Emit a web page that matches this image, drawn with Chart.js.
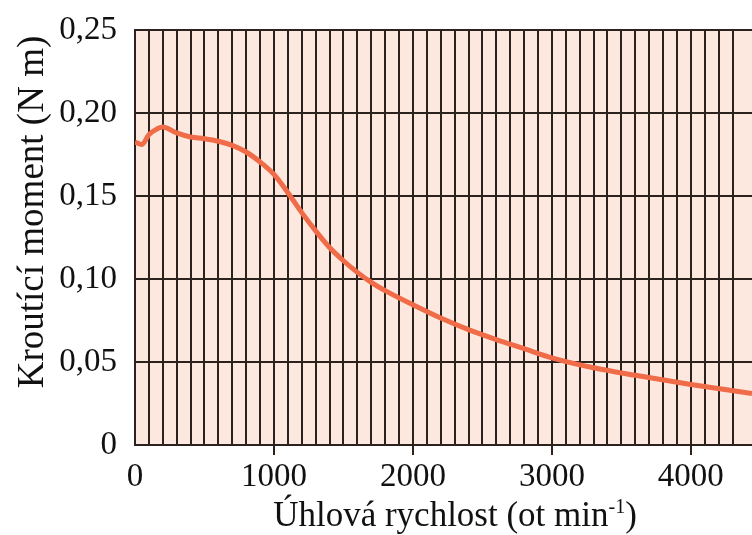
<!DOCTYPE html>
<html>
<head>
<meta charset="utf-8">
<script src="https://cdn.jsdelivr.net/npm/chart.js@4"></script>
<style>
    html, body { margin: 0; padding: 0; background: #fff; }
    #wrap { width: 752px; height: 535px; position: relative; }
</style>
</head>
<body>
<div id="wrap"><canvas id="chartTorque"></canvas></div>
<script>
// speed (ot/min) and torque (N m)
const rpm = [0, 50, 100, 150, 200, 300, 400, 500, 600, 700, 800, 900, 1000, 1100, 1200, 1300, 1400, 1500, 1600, 1700, 1800, 2000, 2200, 2400, 2600, 2800, 3000, 3300, 3600, 4000, 4440];
const torque = [0.1825, 0.181, 0.187, 0.190, 0.1915, 0.188, 0.1855, 0.1845, 0.183, 0.1805, 0.1765, 0.1705, 0.163, 0.152, 0.140, 0.129, 0.119, 0.111, 0.104, 0.098, 0.093, 0.0845, 0.0765, 0.0695, 0.0635, 0.058, 0.0525, 0.0465, 0.042, 0.0365, 0.031];
const xLabelStep = 1000;
const yTickValues = [0, 0.05, 0.10, 0.15, 0.20, 0.25];

const SERIF = '"Liberation Serif", "DejaVu Serif", serif';
const GRID = '#2b211d';

const plotBackground = {
    id: 'plotBackground',
    beforeDraw(chart) {
        const { ctx, chartArea: a } = chart;
        ctx.save();
        ctx.fillStyle = '#fce8de';
        ctx.fillRect(a.left, a.top, a.right - a.left, a.bottom - a.top);
        ctx.restore();
    }
};

// axis titles drawn by hand so the x title can carry a superscript
const axisTitles = {
    id: 'axisTitles',
    afterDraw(chart) {
        const ctx = chart.ctx;
        ctx.save();
        ctx.fillStyle = '#111';
        ctx.textBaseline = 'alphabetic';

        // y title
        ctx.font = '37px ' + SERIF;
        ctx.translate(43, 212);
        ctx.rotate(-Math.PI / 2);
        ctx.textAlign = 'center';
        ctx.fillText('Kroutící moment (N m)', 0, 0);
        ctx.setTransform(1, 0, 0, 1, 0, 0);

        // x title with superscript
        const main = 'Úhlová rychlost (ot min';
        const sup = '-1';
        const tail = ')';
        ctx.font = '35px ' + SERIF;
        const wMain = ctx.measureText(main).width;
        const wTail = ctx.measureText(tail).width;
        ctx.font = '20px ' + SERIF;
        const wSup = ctx.measureText(sup).width;
        let x = 455 - (wMain + wSup + wTail) / 2;
        const base = 526;
        ctx.textAlign = 'left';
        ctx.font = '35px ' + SERIF;
        ctx.fillText(main, x, base);
        x += wMain;
        ctx.font = '20px ' + SERIF;
        ctx.fillText(sup, x, base - 13);
        x += wSup;
        ctx.font = '35px ' + SERIF;
        ctx.fillText(tail, x, base);
        ctx.restore();
    }
};

const ctx = document.getElementById('chartTorque').getContext('2d');
new Chart(ctx, {
    type: 'line',
    data: {
        datasets: [{
            data: rpm.map((r, i) => ({ x: r, y: torque[i] })),
            borderColor: '#f06b48',
            borderWidth: 5,
            pointRadius: 0,
            cubicInterpolationMode: 'monotone',
            fill: false
        }]
    },
    options: {
        responsive: true,
        maintainAspectRatio: false,
        animation: false,
        layout: { padding: { top: 30, right: 0, left: 0, bottom: 0 } },
        plugins: {
            legend: { display: false },
            tooltip: { enabled: false }
        },
        scales: {
            x: {
                type: 'linear',
                min: 0,
                max: 4440,
                afterFit: s => { s.height = 90; s.paddingRight = 0; s.paddingLeft = 0; },
                border: { color: GRID, width: 2 },
                grid: {
                    color: c => (c.tick && c.tick.value % 100 === 0 && c.tick.value > 0) ? GRID : 'rgba(0,0,0,0)',
                    lineWidth: 2,
                    drawTicks: true,
                    tickLength: 10,
                    tickColor: c => (c.tick && c.tick.value % xLabelStep === 0 && c.tick.value > 0) ? GRID : 'rgba(0,0,0,0)'
                },
                ticks: {
                    stepSize: 100,
                    autoSkip: false,
                    maxRotation: 0,
                    padding: 3,
                    color: '#111',
                    font: { family: SERIF, size: 33 },
                    callback: v => (v % xLabelStep === 0 ? String(v) : '')
                }
            },
            y: {
                min: 0,
                max: 0.25,
                afterFit: s => { s.width = 135; s.paddingTop = 0; s.paddingBottom = 0; },
                afterBuildTicks: s => { s.ticks = yTickValues.map(v => ({ value: v })); },
                border: { color: GRID, width: 2 },
                grid: {
                    color: GRID,
                    lineWidth: 2,
                    drawTicks: false
                },
                ticks: {
                    padding: 18,
                    color: '#111',
                    font: { family: SERIF, size: 33 },
                    callback: v => (v === 0 ? '0' : v.toFixed(2).replace('.', ','))
                }
            }
        }
    },
    plugins: [plotBackground, axisTitles]
});
</script>
</body>
</html>
